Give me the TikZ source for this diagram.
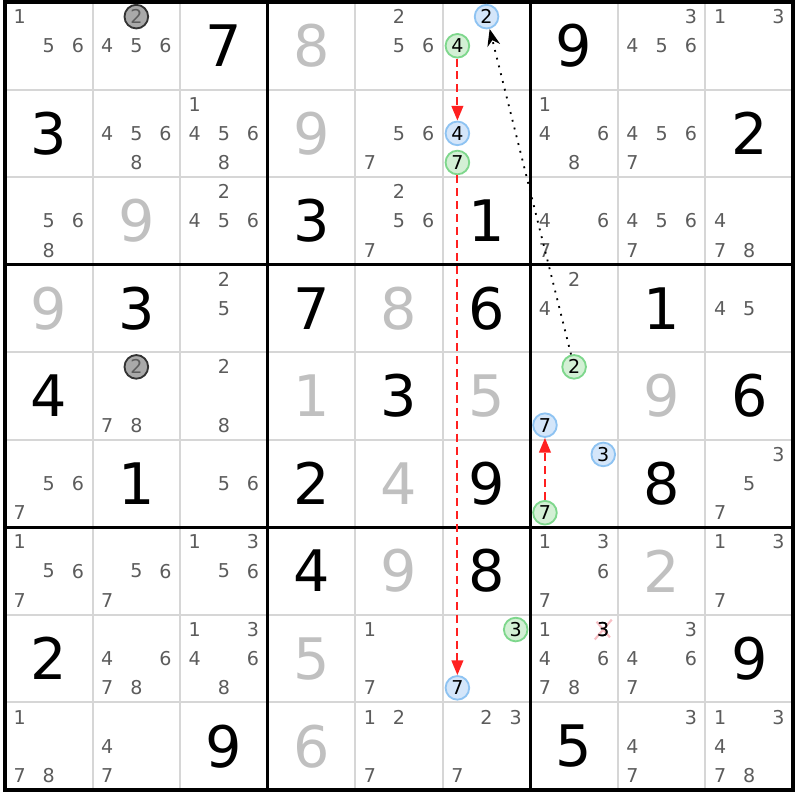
\documentclass[tikz,border=0pt]{standalone}
\usepackage{fontspec}
\setmainfont{DejaVu Sans}
\usetikzlibrary{arrows.meta}

\definecolor{candgrey}{HTML}{5C5C5C}
\definecolor{solvedgrey}{HTML}{C0C0C0}
\definecolor{gridgrey}{HTML}{D6D6D6}
\definecolor{fillblue}{HTML}{D4E6FA}
\definecolor{ringblue}{HTML}{8EC3F2}
\definecolor{fillgreen}{HTML}{D3F0D5}
\definecolor{ringgreen}{HTML}{7ED78C}
\definecolor{fillgris}{HTML}{A9A9A9}
\definecolor{xpink}{HTML}{F28A94}
\definecolor{linkred}{HTML}{FF2020}

\tikzset{
  big/.style={font=\fontsize{18.6}{18.6}\selectfont, inner sep=0pt},
  given/.style={big, text=black},
  solved/.style={big, text=solvedgrey},
  cand/.style={font=\fontsize{6.2}{6.2}\selectfont, inner sep=0pt, text=candgrey},
  candx/.style={cand, text=black},
  ring/.style={cand, circle, minimum size=0.27cm, line width=0.6pt, text=black},
  onblue/.style={ring, draw=ringblue, fill=fillblue},
  ongreen/.style={ring, draw=ringgreen, fill=fillgreen},
  ongris/.style={ring, draw=black!80, fill=fillgris, text=candgrey},
  redlink/.style={linkred, line width=0.65pt, dash pattern=on 2.6pt off 1.6pt,
    -{Triangle[length=4.8pt,width=3.8pt]}},
  blacklink/.style={black, line width=0.6pt, dotted,
    -{Stealth[length=5.5pt,width=4.2pt]}},
}

% fila, columna, lista de candidatos
\newcommand{\cands}[4][cand]{%
  \foreach \d in {#4}{
    \pgfmathsetmacro{\cx}{#3-1+0.167+0.333*mod(\d-1,3)}
    \pgfmathsetmacro{\cy}{-(#2-1)-0.167-0.333*floor((\d-1)/3)}
    \node[#1] (k#2#3\d) at (\cx,\cy) {\d};
  }}
\newcommand{\cell}[4][given]{\node[#1] (g#2#3) at (#3-0.5,0.5-#2) {#4};}

\begin{document}
\begin{tikzpicture} %Sudoku con cadena
  \useasboundingbox (-0.057,0.023) rectangle (9.057,-9.114);

  \foreach \i in {1,2,4,5,7,8}{
    \draw[gridgrey, line width=0.65pt] (\i,0) -- (\i,-9);
    \draw[gridgrey, line width=0.65pt] (0,-\i) -- (9,-\i);
  }
  \foreach \i in {3,6}{
    \draw[line width=1pt] (\i,0) -- (\i,-9);
    \draw[line width=1pt] (0,-\i) -- (9,-\i);
  }
  \draw[line width=1.1pt] (0,0) rectangle (9,-9);

  % dadas
  \cell{1}{3}{7} \cell{1}{7}{9}
  \cell{2}{1}{3} \cell{2}{9}{2}
  \cell{3}{4}{3} \cell{3}{6}{1}
  \cell{4}{2}{3} \cell{4}{4}{7} \cell{4}{6}{6} \cell{4}{8}{1}
  \cell{5}{1}{4} \cell{5}{5}{3} \cell{5}{9}{6}
  \cell{6}{2}{1} \cell{6}{4}{2} \cell{6}{6}{9} \cell{6}{8}{8}
  \cell{7}{4}{4} \cell{7}{6}{8}
  \cell{8}{1}{2} \cell{8}{9}{9}
  \cell{9}{3}{9} \cell{9}{7}{5}

  % resueltas
  \cell[solved]{1}{4}{8} \cell[solved]{2}{4}{9} \cell[solved]{3}{2}{9}
  \cell[solved]{4}{1}{9} \cell[solved]{4}{5}{8} \cell[solved]{5}{4}{1}
  \cell[solved]{5}{6}{5} \cell[solved]{5}{8}{9} \cell[solved]{6}{5}{4}
  \cell[solved]{7}{5}{9} \cell[solved]{7}{8}{2} \cell[solved]{8}{4}{5}
  \cell[solved]{9}{4}{6}

  % candidatos
  \cands{1}{1}{1,5,6} \cands{1}{2}{4,5,6} \cands{1}{5}{2,5,6}
  \cands{1}{8}{3,4,5,6} \cands{1}{9}{1,3}
  \cands{2}{2}{4,5,6,8} \cands{2}{3}{1,4,5,6,8} \cands{2}{5}{5,6,7}
  \cands{2}{7}{1,4,6,8} \cands{2}{8}{4,5,6,7}
  \cands{3}{1}{5,6,8} \cands{3}{3}{2,4,5,6} \cands{3}{5}{2,5,6,7}
  \cands{3}{7}{4,6,7} \cands{3}{8}{4,5,6,7} \cands{3}{9}{4,7,8}
  \cands{4}{3}{2,5} \cands{4}{7}{2,4} \cands{4}{9}{4,5}
  \cands{5}{2}{7,8} \cands{5}{3}{2,8}
  \cands{6}{1}{5,6,7} \cands{6}{3}{5,6} \cands{6}{9}{3,5,7}
  \cands{7}{1}{1,5,6,7} \cands{7}{2}{5,6,7} \cands{7}{3}{1,3,5,6}
  \cands{7}{7}{1,3,6,7} \cands{7}{9}{1,3,7}
  \cands{8}{2}{4,6,7,8} \cands{8}{3}{1,3,4,6,8} \cands{8}{5}{1,7}
  \cands{8}{7}{1,4,6,7,8} \cands{8}{8}{3,4,6,7}
  \cands{9}{1}{1,7,8} \cands{9}{2}{4,7} \cands{9}{5}{1,2,7}
  \cands{9}{6}{2,3,7} \cands{9}{8}{3,4,7} \cands{9}{9}{1,3,4,7,8}

  % marcados
  \cands[ongris]{1}{2}{2} \cands[ongris]{5}{2}{2}
  \cands[onblue]{1}{6}{2} \cands[ongreen]{1}{6}{4}
  \cands[onblue]{2}{6}{4} \cands[ongreen]{2}{6}{7}
  \cands[ongreen]{5}{7}{2} \cands[onblue]{5}{7}{7}
  \cands[onblue]{6}{7}{3} \cands[ongreen]{6}{7}{7}
  \cands[ongreen]{8}{6}{3} \cands[onblue]{8}{6}{7}
  \cands[candx]{8}{7}{3}
  \draw[xpink, line width=0.7pt, opacity=0.55, shorten <=-0.9pt, shorten >=-0.9pt]
    (k873.north west) -- (k873.south east) (k873.north east) -- (k873.south west);
  \node[candx] at (k873) {3};

  % enlaces
  \draw[redlink] (k164) -- (k264);
  \draw[redlink] (k267) -- (k867);
  \draw[redlink] (k677) -- (k577);
  \draw[blacklink] (k572) -- (k162);
\end{tikzpicture}
\end{document}
